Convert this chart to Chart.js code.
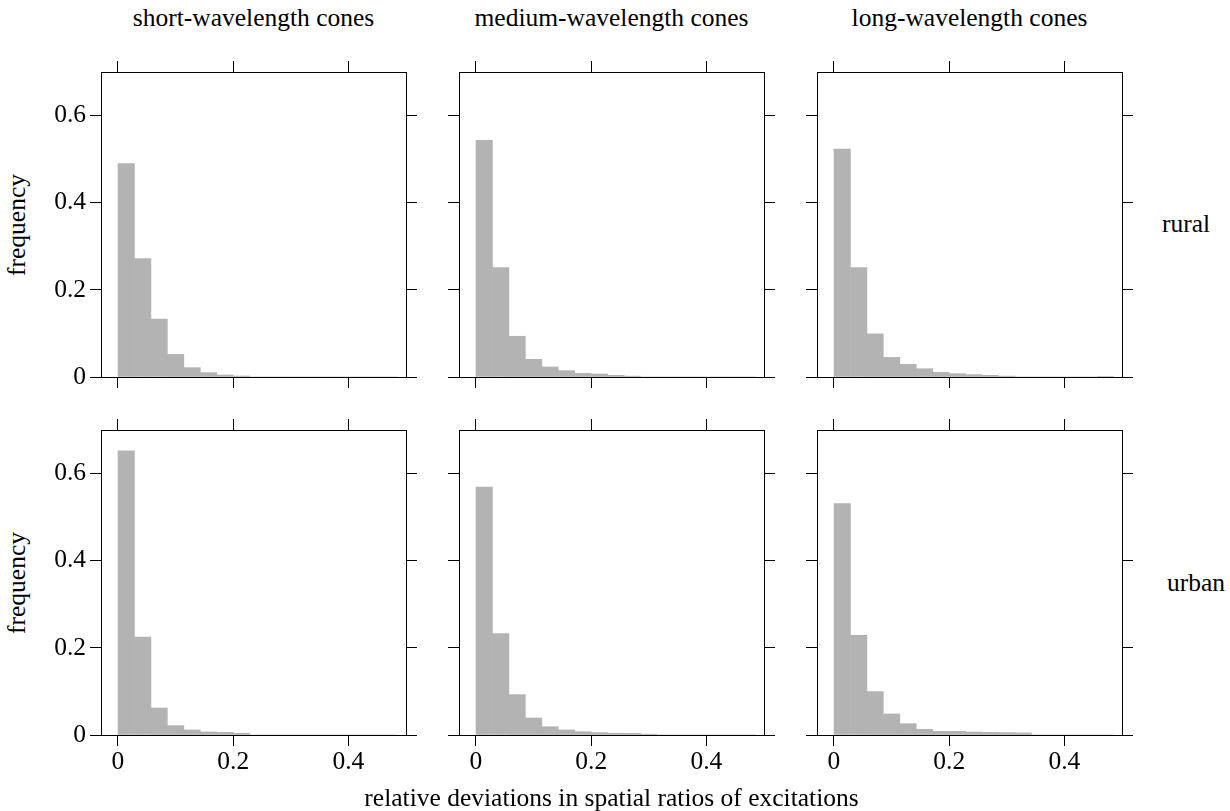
<!DOCTYPE html>
<html><head><meta charset="utf-8">
<script src="https://cdn.jsdelivr.net/npm/chart.js@4.4.1/dist/chart.umd.min.js"></script>
<style>
html,body{margin:0;padding:0;background:#fff;}
body{width:1230px;height:811px;position:relative;overflow:hidden;font-family:"Liberation Serif","Times New Roman",serif;color:#000;}
.c{position:absolute;}
.t{position:absolute;font-size:25.5px;line-height:25.5px;white-space:nowrap;}
</style></head><body>
<script>
// ---- data ----
const columnTitles = ['short-wavelength cones', 'medium-wavelength cones', 'long-wavelength cones'];
const rowTitles = ['rural', 'urban'];
const xTitle = 'relative deviations in spatial ratios of excitations';
const yTitle = 'frequency';
const binCenters = [0.0143, 0.0429, 0.0714, 0.1000, 0.1286, 0.1571, 0.1857, 0.2143, 0.2429, 0.2714, 0.3000, 0.3286, 0.3571, 0.3857, 0.4143, 0.4429, 0.4714];
const ruralShort  = [0.490, 0.272, 0.133, 0.052, 0.0215, 0.010, 0.0046, 0.0022, 0, 0, 0, 0, 0, 0, 0, 0, 0];
const ruralMedium = [0.543, 0.251, 0.0935, 0.0406, 0.023, 0.0146, 0.0084, 0.0069, 0.0038, 0.002, 0, 0, 0, 0, 0, 0, 0];
const ruralLong   = [0.523, 0.251, 0.099, 0.045, 0.029, 0.019, 0.0107, 0.0077, 0.0054, 0.0038, 0.002, 0, 0, 0, 0, 0, 0.001];
const urbanShort  = [0.652, 0.225, 0.062, 0.0215, 0.0115, 0.007, 0.006, 0.004, 0, 0, 0, 0, 0, 0, 0, 0, 0];
const urbanMedium = [0.569, 0.233, 0.0927, 0.039, 0.019, 0.0115, 0.0077, 0.0054, 0.004, 0.0038, 0.002, 0, 0, 0, 0, 0, 0];
const urbanLong   = [0.531, 0.229, 0.0996, 0.0483, 0.026, 0.013, 0.0084, 0.0084, 0.0069, 0.006, 0.0054, 0.0046, 0, 0, 0, 0, 0];
const xTicks = [0, 0.2, 0.4];
const xTickLabels = ['0', '0.2', '0.4'];
const yTicks = [0, 0.2, 0.4, 0.6];
const yTickLabels = ['0', '0.2', '0.4', '0.6'];
const xRange = [-0.0295, 0.5];
const yRange = [0, 0.7];

const panelValues = [[ruralShort, ruralMedium, ruralLong], [urbanShort, urbanMedium, urbanLong]];

// ---- layout ----
const FONT = '"Liberation Serif", "Times New Roman", serif';
const FS = 25.5;
const PANEL_LEFT = [101, 459, 817];
const PANEL_TOP = [72, 430];
const PANEL = 305;
const M = {l: 60, r: 20, t: 20, b: 55};
const TICK = 11;

function addText(txt, left, top, extra) {
  const d = document.createElement('div');
  d.className = 't';
  d.textContent = txt;
  d.style.left = left + 'px';
  d.style.top = top + 'px';
  if (extra) Object.assign(d.style, extra);
  document.body.appendChild(d);
  return d;
}

function axisCommon(range, ticksArr, labels, show, fitSize, isX) {
  return {
    type: 'linear', min: range[0], max: range[1], z: 1, offset: false,
    afterBuildTicks: s => { s.ticks = ticksArr.map(v => ({value: v})); },
    afterFit: s => { if (isX) s.height = fitSize; else s.width = fitSize; },
    grid: {offset: false, drawOnChartArea: false, drawTicks: true, tickLength: TICK, color: '#000', lineWidth: 1},
    border: {display: true, color: '#000', width: 1},
    ticks: {display: show, color: '#000', font: {family: FONT, size: FS}, padding: isX ? 1 : 4,
            maxRotation: 0, minRotation: 0, autoSkip: false,
            callback: (v, i) => labels[i]}
  };
}

for (let r = 0; r < 2; r++) {
  for (let c = 0; c < 3; c++) {
    const wrap = document.createElement('div');
    wrap.className = 'c';
    const W = PANEL + M.l + M.r, H = PANEL + M.t + M.b;
    wrap.style.left = (PANEL_LEFT[c] - M.l) + 'px';
    wrap.style.top = (PANEL_TOP[r] - M.t) + 'px';
    wrap.style.width = W + 'px';
    wrap.style.height = H + 'px';
    const cv = document.createElement('canvas');
    cv.width = W; cv.height = H;
    cv.style.width = W + 'px'; cv.style.height = H + 'px';
    wrap.appendChild(cv);
    document.body.appendChild(wrap);
    const vals = panelValues[r][c];
    new Chart(cv, {
      type: 'bar',
      data: {
        datasets: [{
          data: binCenters.map((x, i) => ({x: x, y: vals[i]})),
          backgroundColor: '#b3b3b3', borderWidth: 0,
          barPercentage: 1, categoryPercentage: 1,
          xAxisID: 'x', yAxisID: 'y'
        }]
      },
      options: {
        responsive: false, animation: false, events: [],
        layout: {padding: 0},
        plugins: {legend: {display: false}, tooltip: {enabled: false}},
        scales: {
          x: Object.assign(axisCommon(xRange, xTicks, xTickLabels, r === 1, M.b, true), {position: 'bottom'}),
          x2: Object.assign(axisCommon(xRange, xTicks, xTickLabels, false, M.t, true), {position: 'top'}),
          y: Object.assign(axisCommon(yRange, yTicks, yTickLabels, c === 0, M.l, false), {position: 'left'}),
          y2: Object.assign(axisCommon(yRange, yTicks, yTickLabels, false, M.r, false), {position: 'right'})
        }
      }
    });
  }
}

// ---- text ----
const BASE = 0.8375 * FS; // baseline offset within a line-height:1 box
for (let c = 0; c < 3; c++) {
  addText(columnTitles[c], PANEL_LEFT[c] + PANEL / 2, 26.7 - BASE, {transform: 'translateX(-50%)'});
}
addText(rowTitles[0], 1162, 232.7 - BASE);
addText(rowTitles[1], 1167, 590.9 - BASE);
for (let r = 0; r < 2; r++) {
  addText(yTitle, 17, PANEL_TOP[r] + PANEL / 2, {transform: 'translate(-50%,-50%) rotate(-90deg)'});
}
addText(xTitle, 611.5, 806.7 - BASE, {transform: 'translateX(-50%)'});
</script>
</body></html>
